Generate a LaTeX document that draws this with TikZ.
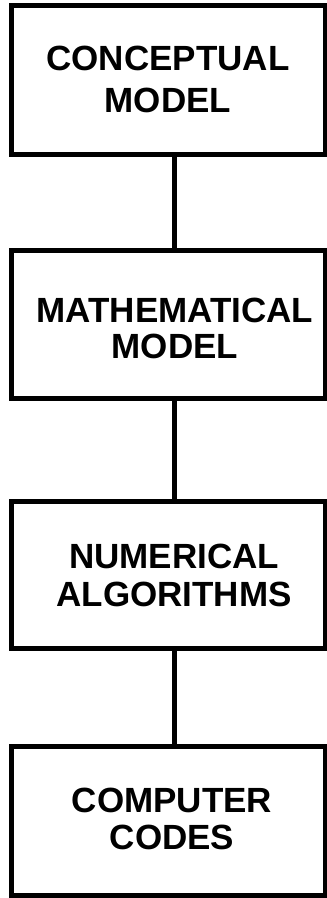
\documentclass[tikz,border=0pt]{standalone}
\usepackage{fontspec}
\setmainfont{Liberation Sans}
\begin{document}
\begin{tikzpicture}[x=1pt,y=-1pt,
  stagebox/.style={draw=black,line width=5pt,minimum width=314pt,inner sep=0pt,outer sep=0pt,fill=none},
  stagetext/.style={align=center,inner sep=0pt,font=\bfseries\fontsize{35}{#1}\selectfont},
  link/.style={line width=5pt}]
\useasboundingbox (0,0) rectangle (327,898);
\node[stagebox,minimum height=149pt] (b1) at (168.5,80) {};
\node[stagebox,minimum height=148.5pt] (b2) at (168.5,324.25) {};
\node[stagebox,minimum height=147pt] (b3) at (168.5,575) {};
\node[stagebox,minimum height=149.5pt] (b4) at (168.5,820.75) {};
\node[stagetext=42pt] (t1) at (168,79) {CONCEPTUAL\\MODEL};
\node[stagetext=36pt] (t2) at (175,328.5) {MATHEMATICAL\\MODEL};
\node[stagetext=38pt] (t3) at (174,575) {NUMERICAL\\ALGORITHMS};
\node[stagetext=37pt] (t4) at (172,819) {COMPUTER\\CODES};
\draw[link] (b1.south -| 174.5,0) -- (b2.north -| 174.5,0);
\draw[link] (b2.south -| 174.5,0) -- (b3.north -| 174.5,0);
\draw[link] (b3.south -| 174.5,0) -- (b4.north -| 174.5,0);
\end{tikzpicture}
\end{document}
